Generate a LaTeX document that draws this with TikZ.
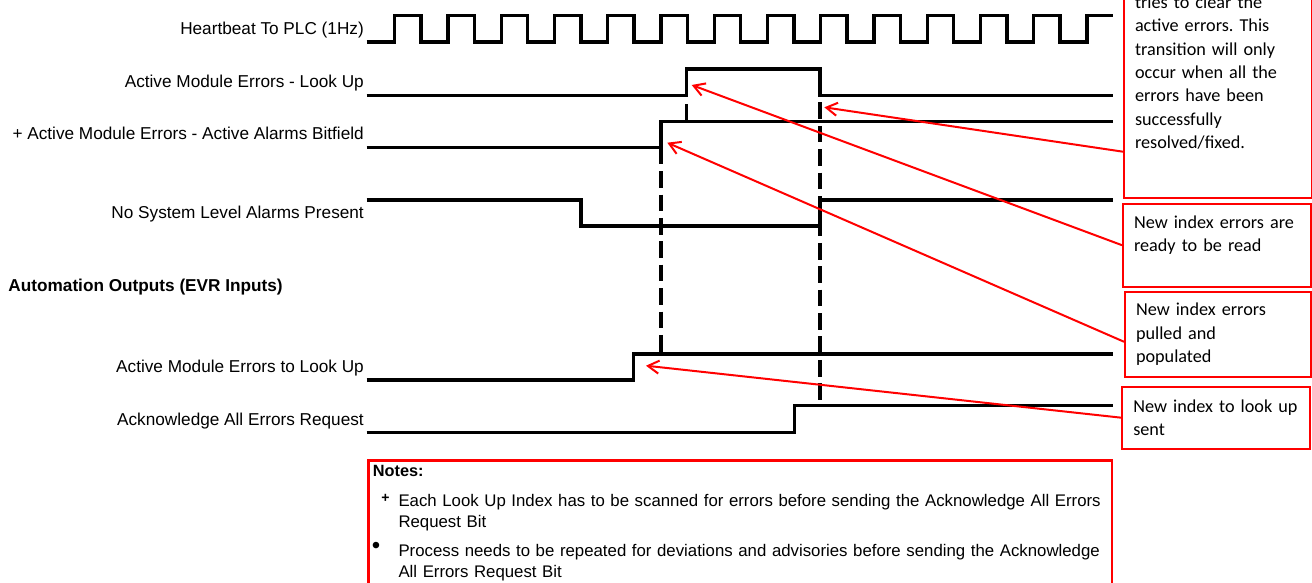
\documentclass[tikz,border=0pt]{standalone}
\usepackage{fontspec}
\setmainfont{Liberation Sans}
\newfontfamily\calloutfont{Carlito}
\usetikzlibrary{arrows.meta}
\frenchspacing

\begin{document}
\begin{tikzpicture}[x=1pt,y=-1pt,>={Straight Barb[length=11pt,width=13pt]},
  lbl/.style={anchor=base east,inner sep=0pt,font=\fontsize{17.2}{20.6}\selectfont},
  sig/.style={line width=3.3pt},
  guide/.style={line width=3.3pt,dash pattern=on 16.7pt off 6.7pt},
  callout/.style={draw=red,line width=2pt,text width=166pt,inner xsep=11pt,inner ysep=0pt,
    align=left,font=\calloutfont\fontsize{18.2}{23.3}\selectfont},
  notetxt/.style={anchor=base west,inner sep=0pt,text width=740pt,align=left,
    font=\fontsize{16.8}{20.8}\selectfont},
  pointer/.style={->,red,line width=2pt}]
  \useasboundingbox (0,0) rectangle (1312,583);

  \node[lbl] (hb) at (364,35) {Heartbeat To PLC (1Hz)};
  \node[lbl] (lookup) at (364,87.3) {Active Module Errors - Look Up};
  \node[lbl] (bitfield) at (364,140) {+ Active Module Errors - Active Alarms Bitfield};
  \node[lbl] (noalarm) at (364,218.3) {No System Level Alarms Present};
  \node[lbl,anchor=base west,font=\fontsize{17.2}{20.6}\selectfont\bfseries] (outputs) at (8.3,291.7) {Automation Outputs (EVR Inputs)};
  \node[lbl] (tolookup) at (364,372.7) {Active Module Errors to Look Up};
  \node[lbl] (ackreq) at (364,425) {Acknowledge All Errors Request};

  \draw[sig] (366.7,42) foreach \k in {0,...,12} {
      -- ({394.8+53.25*\k},42) -- ({394.8+53.25*\k},15.3)
      -- ({421.1+53.25*\k},15.3) -- ({421.1+53.25*\k},42)}
    -- (1087,42) -- (1087,15.3) -- (1112.7,15.3);
  \draw[sig] (366.7,95.7) -- (686.7,95.7) -- (686.7,69) -- (820,69) -- (820,95.7) -- (1112.7,95.7);
  \draw[sig] (366.7,147.7) -- (661,147.7) -- (661,121.7) -- (1112.7,121.7);
  \draw[sig] (366.7,200) -- (581,200) -- (581,226) -- (820,226) -- (820,200) -- (1112.7,200);
  \draw[sig] (366.7,380) -- (633.3,380) -- (633.3,354) -- (1112.7,354);
  \draw[sig] (366.7,432.7) -- (794.3,432.7) -- (794.3,405.7) -- (1112.7,405.7);

  \draw[guide,dash phase=15pt] (686.7,95.7) -- (686.7,121.7);
  \draw[guide] (661,147.7) -- (661,354);
  \draw[guide,dash phase=16.7pt] (820,95.7) -- (820,405.7);

  \node[callout,anchor=south west,minimum height=251.6pt] (fixed) at (1123,199.3) {tries to clear the\\active errors. This\\transition will only\\occur when all the\\errors have been\\successfully\\resolved/fixed.};
  \node[callout,anchor=north west,minimum height=83pt] (ready) at (1122,202.7) {New index errors are\\ready to be read\\\mbox{}};
  \node[callout,anchor=north west,minimum height=84.7pt,text width=164pt] (pulled) at (1124,291) {New index errors\\pulled and\\populated};
  \node[callout,anchor=north west,minimum height=62pt] (sent) at (1121.3,385.7) {New index to look up\\sent};

  \node[draw=red,line width=2.7pt,anchor=north west,minimum width=743.4pt,minimum height=150pt,inner sep=0pt] (notes) at (367.3,459.3) {};
  \node[anchor=base west,inner sep=0pt,font=\fontsize{16.3}{19}\selectfont\bfseries] (notestitle) at (372.7,476.7) {Notes:};
  \node[inner sep=0pt,font=\fontsize{14}{14}\selectfont\bfseries] (plus) at (385.5,498.7) {+};
  \node[notetxt] (note1) at (398.3,506.7) {Each Look Up Index has to be scanned for errors before sending the Acknowledge All Errors\\Request Bit};
  \node[inner sep=0pt,font=\fontsize{24}{24}\selectfont] (dot) at (376,548.3) {\textbullet};
  \node[notetxt] (note2) at (398.3,556.7) {Process needs to be repeated for deviations and advisories before sending the Acknowledge\\All Errors Request Bit};

  \coordinate (lookfall) at (824.3,107.3);
  \coordinate (lookrise) at (691.7,85);
  \coordinate (bitrise) at (667.3,142.7);
  \coordinate (reqrise) at (646,365.7);
  \draw[pointer] ([yshift=47.6pt]fixed.south west) -- (lookfall);
  \draw[pointer] (ready.west) -- (lookrise);
  \draw[pointer] ([yshift=-7.4pt]pulled.west) -- (bitrise);
  \draw[pointer] (sent.west) -- (reqrise);
\end{tikzpicture}
\end{document}
